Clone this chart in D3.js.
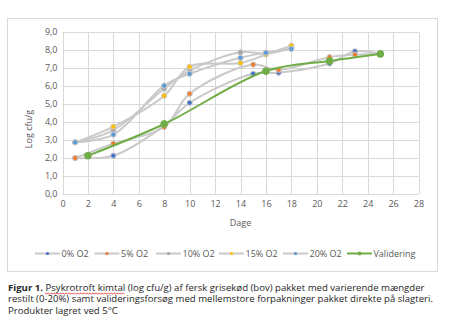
<!DOCTYPE html>
<html>
<head>
<meta charset="utf-8">
<script src="https://cdn.jsdelivr.net/npm/d3@7"></script>
<style>
  html, body { margin: 0; padding: 0; background: #fff; }
  svg { display: block; }
</style>
</head>
<body>
<svg id="chart" width="453" height="333"></svg>
<script>
// Storage days and log counts per residual-oxygen level
const daysLow = [1, 4, 8, 10, 15, 17, 21, 23, 25];
const daysHigh = [1, 4, 8, 10, 14, 16, 18];
const daysVal = [2, 8, 16, 21, 25];

const o2_0 = [2.0, 2.13, 3.8, 5.07, 6.68, 6.74, 7.25, 7.93, 7.78];
const o2_5 = [2.0, 2.8, 3.72, 5.57, 7.19, 6.9, 7.6, 7.74, 7.78];
const o2_10 = [2.87, 3.55, 5.85, 6.85, 7.87, 7.8, 8.1];
const o2_15 = [2.87, 3.74, 5.46, 7.07, 7.28, 7.75, 8.24];
const o2_20 = [2.87, 3.3, 6.02, 6.68, 7.57, 7.85, 8.06];
const validering = [2.13, 3.89, 6.83, 7.39, 7.78];

const seriesNames = ["0% O2", "5% O2", "10% O2", "15% O2", "20% O2", "Validering"];
const seriesColors = ["#4472C4", "#ED7D31", "#A5A5A5", "#FFC000", "#5B9BD5", "#70AD47"];

const xTicks = d3.range(0, 29, 2);
const yTicks = d3.range(0, 10, 1);

const series = [
  { name: seriesNames[0], x: daysLow, y: o2_0, color: seriesColors[0] },
  { name: seriesNames[1], x: daysLow, y: o2_5, color: seriesColors[1] },
  { name: seriesNames[2], x: daysHigh, y: o2_10, color: seriesColors[2] },
  { name: seriesNames[3], x: daysHigh, y: o2_15, color: seriesColors[3] },
  { name: seriesNames[4], x: daysHigh, y: o2_20, color: seriesColors[4] },
];
const valSeries = { name: seriesNames[5], x: daysVal, y: validering, color: seriesColors[5] };

const svg = d3.select("#chart");
const font = "'Open Sans', 'Noto Sans', sans-serif";
const lineGrey = "#C9C9C9";
const gridColor = "#D9D9D9";
const textGrey = "#595959";

// Chart frame
svg.append("rect")
  .attr("x", 7.5).attr("y", 18.5).attr("width", 430).attr("height", 253)
  .attr("fill", "#fff").attr("stroke", "#D9D9D9").attr("stroke-width", 1);

const x = d3.scaleLinear().domain([0, 28]).range([62.5, 418.5]);
const y = d3.scaleLinear().domain([0, 9]).range([194, 32]);

// Gridlines
const grid = svg.append("g");
grid.selectAll("line.h").data(yTicks).join("line")
  .attr("x1", x(0)).attr("x2", x(28))
  .attr("y1", d => Math.round(y(d)) + 0.5).attr("y2", d => Math.round(y(d)) + 0.5)
  .attr("stroke", gridColor).attr("stroke-width", 1);
grid.selectAll("line.v").data(xTicks).join("line")
  .attr("y1", y(0)).attr("y2", y(9))
  .attr("x1", d => Math.round(x(d)) + 0.5).attr("x2", d => Math.round(x(d)) + 0.5)
  .attr("stroke", gridColor).attr("stroke-width", 1);

// Axes
const xAxis = d3.axisBottom(x).tickValues(xTicks).tickSize(0).tickPadding(7);
const gx = svg.append("g").attr("transform", `translate(0,${y(0)})`).call(xAxis);
gx.select(".domain").remove();
gx.selectAll("text").attr("font-family", font).attr("font-size", 9).attr("fill", textGrey);

const yAxis = d3.axisLeft(y).tickValues(yTicks).tickSize(0).tickPadding(5)
  .tickFormat(d => d3.format(".1f")(d).replace(".", ","));
const gy = svg.append("g").attr("transform", `translate(${x(0)},0)`).call(yAxis);
gy.select(".domain").remove();
gy.selectAll("text").attr("font-family", font).attr("font-size", 9).attr("fill", textGrey);

// Axis titles
svg.append("text")
  .attr("x", x(14)).attr("y", 226)
  .attr("text-anchor", "middle")
  .attr("font-family", font).attr("font-size", 9).attr("fill", textGrey)
  .text("Dage");
svg.append("text")
  .attr("transform", `translate(32,129) rotate(-90)`)
  .attr("text-anchor", "middle")
  .attr("font-family", font).attr("font-size", 9).attr("fill", textGrey)
  .text("Log cfu/g");

const line = d3.line()
  .x(d => x(d[0])).y(d => y(d[1]))
  .curve(d3.curveCatmullRom.alpha(0.5));

const plot = svg.append("g");

// Oxygen series: grey smoothed lines with coloured markers
series.forEach(s => {
  const pts = s.x.map((d, i) => [d, s.y[i]]);
  plot.append("path").datum(pts)
    .attr("d", line)
    .attr("fill", "none").attr("stroke", lineGrey).attr("stroke-width", 2);
});
series.forEach(s => {
  const pts = s.x.map((d, i) => [d, s.y[i]]);
  plot.append("g").selectAll("circle").data(pts).join("circle")
    .attr("cx", d => x(d[0])).attr("cy", d => y(d[1]))
    .attr("r", 2.6)
    .attr("fill", s.color).attr("stroke", lineGrey).attr("stroke-width", 1);
});

// Validation series
{
  const pts = valSeries.x.map((d, i) => [d, valSeries.y[i]]);
  plot.append("path").datum(pts)
    .attr("d", line)
    .attr("fill", "none").attr("stroke", valSeries.color).attr("stroke-width", 2);
  plot.append("g").selectAll("circle").data(pts).join("circle")
    .attr("cx", d => x(d[0])).attr("cy", d => y(d[1]))
    .attr("r", 3.4)
    .attr("fill", valSeries.color).attr("stroke", valSeries.color).attr("stroke-width", 1);
}

// Legend
const legendX = [35, 94.5, 156, 219, 283, 347];
const legend = svg.append("g");
seriesNames.forEach((name, i) => {
  const lx = legendX[i];
  const ly = 253.5;
  const isVal = i === 5;
  legend.append("line")
    .attr("x1", lx).attr("x2", lx + 25).attr("y1", ly).attr("y2", ly)
    .attr("stroke", isVal ? seriesColors[5] : lineGrey).attr("stroke-width", 2);
  legend.append("circle")
    .attr("cx", lx + 12.5).attr("cy", ly).attr("r", isVal ? 2 : 1.6)
    .attr("fill", seriesColors[i]);
  legend.append("text")
    .attr("x", lx + 26.5).attr("y", ly + 3.2)
    .attr("font-family", font).attr("font-size", 9).attr("fill", textGrey)
    .text(name);
});

// Figure caption
const cap = svg.append("g").attr("font-family", font).attr("font-size", 9.6).attr("fill", "#262626");
const l1 = cap.append("text").attr("x", 8).attr("y", 290.5);
l1.append("tspan").attr("font-weight", "bold").text("Figur 1.");
l1.append("tspan").text(" Psykrotroft kimtal (log cfu/g) af fersk grisekød (bov) pakket med varierende mængder");
cap.append("text").attr("x", 8).attr("y", 302.2)
  .text("restilt (0-20%) samt valideringsforsøg med mellemstore forpakninger pakket direkte på slagteri.");
cap.append("text").attr("x", 8).attr("y", 313.9)
  .text("Produkter lagret ved 5°C");

// Spell-check style wavy underline under the first words
{
  const x0 = 45, x1 = 124, yy = 293;
  let dStr = `M${x0},${yy}`;
  for (let px = x0, k = 0; px < x1; px += 1.5, k++) {
    dStr += ` L${px + 1.5},${yy + (k % 2 === 0 ? 1 : 0)}`;
  }
  svg.append("path").attr("d", dStr).attr("fill", "none")
    .attr("stroke", "#E03030").attr("stroke-width", 0.8);
}
</script>
</body>
</html>
